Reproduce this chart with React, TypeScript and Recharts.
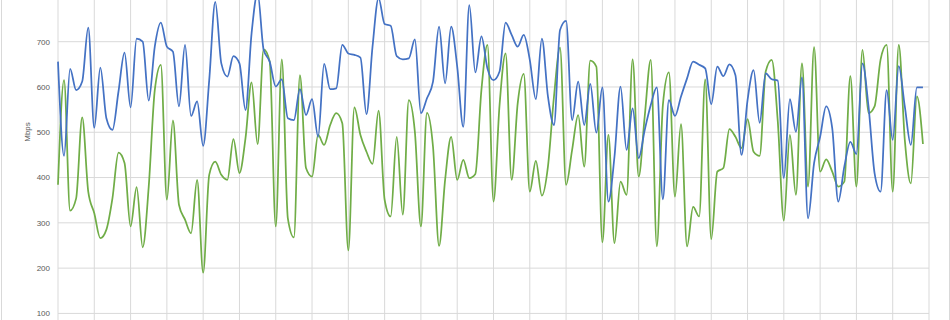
import { LineChart, Line, XAxis, YAxis, CartesianGrid } from "recharts";

// one sample every step, 144 samples, gridline every 6 samples
const download = [
  656, 448, 640, 593, 612, 731, 510, 643, 531, 505, 590, 676, 555, 707, 700, 570,
  689, 742, 689, 678, 557, 693, 536, 568, 470, 615, 788, 652, 623, 668, 652, 549,
  718, 807, 682, 656, 601, 617, 531, 527, 595, 538, 573, 490, 651, 595, 597, 693,
  674, 671, 665, 540, 689, 796, 739, 735, 668, 661, 663, 705, 542, 575, 612, 733,
  608, 733, 645, 512, 781, 632, 712, 641, 615, 634, 742, 715, 689, 715, 660, 573,
  707, 579, 516, 726, 746, 527, 612, 516, 607, 499, 599, 347, 446, 601, 461, 553,
  443, 505, 560, 599, 352, 571, 536, 579, 619, 656, 649, 641, 562, 645, 624, 650,
  626, 450, 571, 637, 521, 630, 617, 614, 399, 573, 501, 621, 310, 432, 490, 557,
  509, 347, 424, 479, 452, 652, 557, 410, 369, 593, 483, 646, 557, 472, 599, 599,
];

const upload = [
  384, 615, 327, 354, 533, 369, 321, 266, 285, 354, 455, 432, 292, 379, 246, 380,
  593, 649, 351, 526, 340, 307, 277, 395, 190, 406, 435, 406, 395, 485, 410, 487,
  610, 474, 683, 656, 292, 661, 310, 268, 626, 421, 402, 494, 472, 516, 542, 520,
  239, 555, 494, 457, 430, 548, 351, 314, 490, 318, 571, 501, 292, 543, 468, 249,
  395, 490, 395, 439, 399, 408, 593, 693, 347, 560, 674, 395, 564, 629, 369, 437,
  360, 424, 579, 687, 384, 461, 538, 424, 658, 645, 257, 494, 255, 391, 362, 661,
  402, 535, 660, 248, 560, 632, 358, 518, 248, 335, 314, 617, 264, 413, 421, 507,
  490, 465, 529, 457, 448, 634, 660, 524, 305, 494, 362, 652, 380, 688, 413, 440,
  413, 380, 391, 624, 380, 682, 542, 557, 661, 693, 369, 693, 483, 387, 579, 474,
];

const xTicks = [0, 6, 12, 18, 24, 30, 36, 42, 48, 54, 60, 66, 72, 78, 84, 90, 96, 102, 108, 114, 120, 126, 132, 138, 144];
const yTicks = [100, 200, 300, 400, 500, 600, 700];
const gridY = [0, 100, 200, 300, 400, 500, 600, 700, 800];

const data = download.map((d, i) => ({ x: i, download: d, upload: upload[i] }));

const MbpsLabel = () => (
  <text
    x={27}
    y={142}
    transform="rotate(-90 27 142)"
    textAnchor="middle"
    dominantBaseline="central"
    fontSize={8}
    fill="#595959"
  >
    Mbps
  </text>
);

export default function App() {
  return (
    <div
      style={{
        position: "absolute",
        left: 0,
        top: 0,
        width: 950,
        height: 320,
        overflow: "hidden",
        background: "#fff",
        fontFamily: "'Liberation Sans', Arial, sans-serif",
      }}
    >
      <div style={{ position: "absolute", left: 1, top: 0, width: 947, height: 330, borderLeft: "1px solid #d9d9d9", borderRight: "1px solid #d9d9d9" }} />
      <div style={{ position: "absolute", left: 0, top: -10 }}>
        <LineChart
          width={950}
          height={400}
          data={data}
          margin={{ top: 6.4, right: 21, bottom: 31.3, left: 0 }}
        >
          <CartesianGrid stroke="#d9d9d9" strokeWidth={1} horizontalValues={gridY} verticalValues={xTicks} />
          <XAxis dataKey="x" type="number" domain={[0, 144]} ticks={xTicks} hide />
          <YAxis
            type="number"
            domain={[0, 800]}
            ticks={yTicks}
            width={58}
            axisLine={false}
            tickLine={false}
            tickSize={6}
            tickMargin={2}
            interval={0}
            allowDataOverflow
            tick={{ fontSize: 8, fill: "#595959" }}
            label={<MbpsLabel />}
          />
          <Line
            type="monotone"
            dataKey="upload"
            stroke="#70ad47"
            strokeWidth={1.75}
            dot={false}
            isAnimationActive={false}
          />
          <Line
            type="monotone"
            dataKey="download"
            stroke="#4472c4"
            strokeWidth={1.75}
            dot={false}
            isAnimationActive={false}
          />
        </LineChart>
      </div>
    </div>
  );
}
